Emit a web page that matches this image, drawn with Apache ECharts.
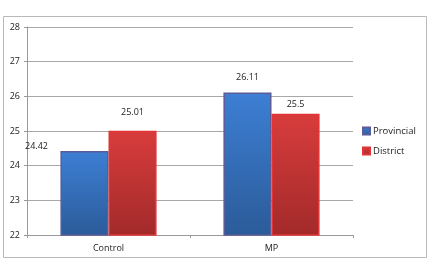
<!DOCTYPE html>
<html>
<head>
<meta charset="utf-8">
<script src="https://cdn.jsdelivr.net/npm/echarts@6/dist/echarts.min.js"></script>
<style>
  html, body { margin: 0; padding: 0; background: #fff; }
  #chart { width: 433px; height: 259px; }
</style>
</head>
<body>
<div id="chart"></div>
<script>
    var categories = ['Control', 'MP'];
    var provincial = [24.42, 26.11];
    var district = [25.01, 25.5];
    var yTicks = [22, 23, 24, 25, 26, 27, 28];

    function blueFill() {
        return new echarts.graphic.LinearGradient(0, 0, 0, 1, [
            { offset: 0, color: '#3d7fd4' },
            { offset: 1, color: '#2b5b99' }
        ]);
    }

    function redFill() {
        return new echarts.graphic.LinearGradient(0, 0, 0, 1, [
            { offset: 0, color: '#d83c3c' },
            { offset: 1, color: '#a32a2a' }
        ]);
    }

    var chart = echarts.init(document.getElementById('chart'));

    var option = {
        animation: false,
        textStyle: { fontFamily: 'Open Sans', color: '#222' },
        graphic: [{
            type: 'rect',
            shape: { x: 3.5, y: 16.5, width: 423, height: 241 },
            style: { fill: 'none', stroke: '#b8b8b8', lineWidth: 1 },
            z: -1
        }],
        grid: { left: 27, right: 80, top: 27, bottom: 24 },
        legend: {
            orient: 'vertical',
            left: 357,
            top: 121,
            itemWidth: 7,
            itemHeight: 7,
            itemGap: 10,
            icon: 'rect',
            textStyle: { fontSize: 9.5, color: '#222', padding: [0, 0, 0, -2] },
            data: ['Provincial', 'District']
        },
        xAxis: {
            type: 'category',
            data: categories,
            axisLine: { lineStyle: { color: '#999' } },
            axisTick: { show: true, length: 3, lineStyle: { color: '#999' } },
            axisLabel: { fontSize: 9, color: '#222', margin: 9 }
        },
        yAxis: {
            type: 'value',
            min: yTicks[0],
            max: yTicks[yTicks.length - 1],
            interval: 1,
            axisLine: { show: true, lineStyle: { color: '#999' } },
            axisTick: { show: true, length: 3, lineStyle: { color: '#999' } },
            axisLabel: { fontSize: 9, color: '#222', margin: 7 },
            splitLine: { lineStyle: { color: '#a8a8a8' } }
        },
        series: [{
            name: 'Provincial',
            type: 'bar',
            barGap: '0%',
            barCategoryGap: '41%',
            itemStyle: { color: blueFill(), borderColor: '#5b5b98', borderWidth: 1.5 },
            label: { show: true, position: 'top', distance: 11, fontSize: 9, color: '#222' },
            data: provincial.map(function(v, i) {
                // the first label sits off to the left in the original
                if (i === 0) {
                    return { value: v, label: { offset: [-48, 11] } };
                }
                return v;
            })
        }, {
            name: 'District',
            type: 'bar',
            itemStyle: { color: redFill(), borderColor: '#e23434', borderWidth: 1.5 },
            label: { show: true, position: 'top', distance: 14, fontSize: 9, color: '#222' },
            data: district.map(function(v, i) {
                if (i === 1) {
                    return { value: v, label: { distance: 5 } };
                }
                return v;
            })
        }]
    };

    chart.setOption(option);
</script>
</body>
</html>
